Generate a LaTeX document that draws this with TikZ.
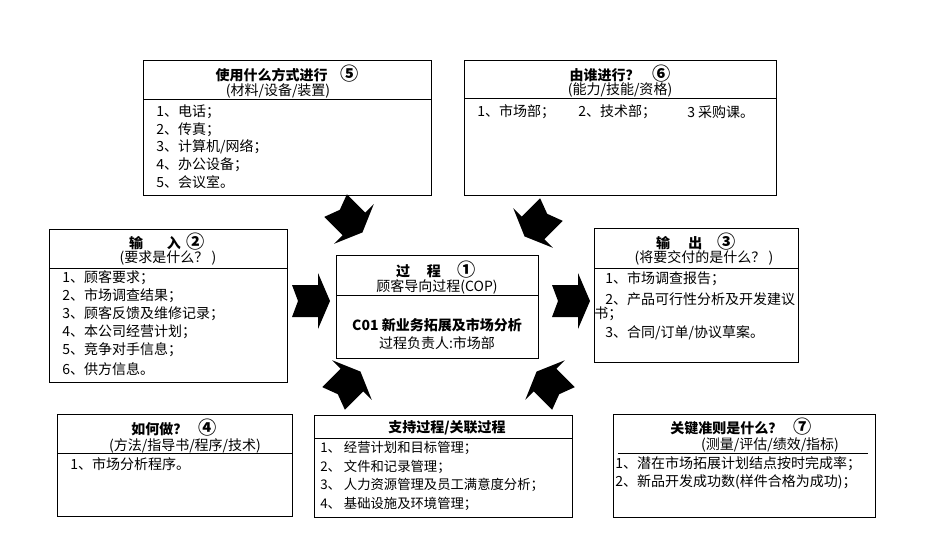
\documentclass[tikz,border=0pt]{standalone}
\usepackage{fontspec}
\setmainfont{Noto Sans CJK SC}
\newcommand\circnum[1]{\raisebox{-0.1ex}{\scalebox{1.3}{#1}}}
\begin{document}
\begin{tikzpicture}[x=0.75pt,y=-0.75pt,
  box/.style={draw, line width=0.75pt, rectangle, inner sep=0pt, outer sep=0pt},
  divl/.style={line width=0.75pt},
  ttl/.style={font=\bfseries\fontsize{10.5}{12}\selectfont, inner sep=0pt},
  sub/.style={font=\fontsize{10.5}{12}\selectfont, inner sep=0pt},
  itm/.style={font=\fontsize{10.5}{12}\selectfont, inner sep=0pt, anchor=west},
  itms/.style={font=\fontsize{10}{12}\selectfont, inner sep=0pt, anchor=west},
  chev/.pic={\fill[black] (-19,-16) -- (7,-16) -- (7,-28) -- (19,0) -- (7,28) -- (7,16) -- (-19,16) -- (-13,0) -- cycle;}
]
\useasboundingbox (0,0) rectangle (930,547);
\fill[white] (0,0) rectangle (930,547);

% ---- box 5
\node[box, minimum width=216pt, minimum height=101.25pt] (b5) at (287,127.5) {};
\draw[divl] (b5.west |- 0,99) -- (b5.east |- 0,99);
\node[ttl] (b5t) at (287,74) {使用什么方式进行\hspace{0.9em}\circnum{⑤}};
\node[sub] (b5s) at (278,91) {(材料/设备/装置)};
\node[itm] (b5i1) at (156,112) {1、电话；};
\node[itm] (b5i2) at (156,130) {2、传真；};
\node[itm] (b5i3) at (156,147) {3、计算机/网络；};
\node[itm] (b5i4) at (156,165) {4、办公设备；};
\node[itm] (b5i5) at (156,182) {5、会议室。};

% ---- box 6
\node[box, minimum width=234pt, minimum height=101.25pt] (b6) at (620,127.5) {};
\draw[divl] (b6.west |- 0,98) -- (b6.east |- 0,98);
\node[ttl] (b6t) at (620,74) {由谁进行？\hspace{0.9em}\circnum{⑥}};
\node[sub] (b6s) at (620,90) {(能力/技能/资格)};
\node[itm] (b6i1) at (477,112) {1、市场部；};
\node[itm] (b6i2) at (578,112) {2、技术部；};
\node[itm] (b6i3) at (687,112) {3 采购课。};

% ---- box 2
\node[box, minimum width=178.5pt, minimum height=114.75pt] (b2) at (168,305.5) {};
\draw[divl] (b2.west |- 0,268) -- (b2.east |- 0,268);
\node[ttl] (b2t) at (167,242) {输\hspace{1.7em}入\hspace{0.4em}\circnum{②}};
\node[sub] (b2s) at (168,258) {(要求是什么？ )};
\node[itm] (b2i1) at (62,278) {1、顾客要求；};
\node[itm] (b2i2) at (62,296) {2、市场调查结果；};
\node[itm] (b2i3) at (62,314) {3、顾客反馈及维修记录；};
\node[itm] (b2i4) at (62,332) {4、本公司经营计划；};
\node[itm] (b2i5) at (62,350) {5、竞争对手信息；};
\node[itm] (b2i6) at (62,369) {6、供方信息。};

% ---- centre box
\node[box, minimum width=151.5pt, minimum height=77.25pt] (bc) at (437,306.5) {};
\draw[divl] (bc.west |- 0,295) -- (bc.east |- 0,295);
\node[ttl] (bct) at (436,270) {过\hspace{1.2em}程\hspace{1.2em}\circnum{①}};
\node[sub] (bcs) at (437,287) {顾客导向过程(COP)};
\node[ttl] (bcm) at (437,325) {C01 新业务拓展及市场分析};
\node[sub] (bco) at (437,343) {过程负责人:市场部};

% ---- box 3
\node[box, minimum width=153pt, minimum height=100.5pt] (b3) at (696,295) {};
\draw[divl] (b3.west |- 0,268) -- (b3.east |- 0,268);
\node[ttl] (b3t) at (696,242) {输\hspace{1.3em}出\hspace{1.1em}\circnum{③}};
\node[sub] (b3s) at (704,258) {(将要交付的是什么？ )};
\node[itm] (b3i1) at (605,279) {1、市场调查报告；};
\node[itm] (b3i2) at (605,299) {2、产品可行性分析及开发建议};
\node[itm] (b3i2b) at (594,314) {书；};
\node[itm] (b3i3) at (605,333) {3、合同/订单/协议草案。};

% ---- box 4
\node[box, minimum width=176.25pt, minimum height=76.5pt] (b4) at (174.5,465) {};
\draw[divl] (b4.west |- 0,453) -- (b4.east |- 0,453);
\node[ttl] (b4t) at (174,428) {如何做？\hspace{0.8em}\circnum{④}};
\node[sub] (b4s) at (185,446) {(方法/指导书/程序/技术)};
\node[itm] (b4i1) at (70,464) {1、市场分析程序。};

% ---- support box
\node[box, minimum width=193.5pt, minimum height=76.5pt] (bs) at (443,466) {};
\draw[divl] (bs.west |- 0,438) -- (bs.east |- 0,438);
\node[ttl] (bst) at (447,428) {支持过程/关联过程};
\node[itms] (bsi1) at (320,448) {1、 经营计划和目标管理；};
\node[itms] (bsi2) at (320,467) {2、 文件和记录管理；};
\node[itms] (bsi3) at (320,485) {3、 人力资源管理及员工满意度分析；};
\node[itms] (bsi4) at (320,504) {4、 基础设施及环境管理；};

% ---- box 7
\node[box, minimum width=196.5pt, minimum height=77.25pt] (b7) at (744,465.5) {};
\draw[divl] (618,453) -- (868,453);
\node[ttl] (b7t) at (741,427) {关键准则是什么？\hspace{0.8em}\circnum{⑦}};
\node[sub] (b7s) at (770,445) {(测量/评估/绩效/指标)};
\node[itm] (b7i1) at (615,464) {1、潜在市场拓展计划结点按时完成率；};
\node[itm] (b7i2) at (615,482) {2、新品开发成功数(样件合格为成功)；};

% ---- block arrows
\pic at (311,301) {chev};
\pic at (571,301) {chev};
\pic[rotate=-45] at (349,219) {chev};
\pic[rotate=-135] at (538,223) {chev};
\pic[rotate=45] at (347,385) {chev};
\pic[rotate=135] at (550,385) {chev};
\end{tikzpicture}
\end{document}
